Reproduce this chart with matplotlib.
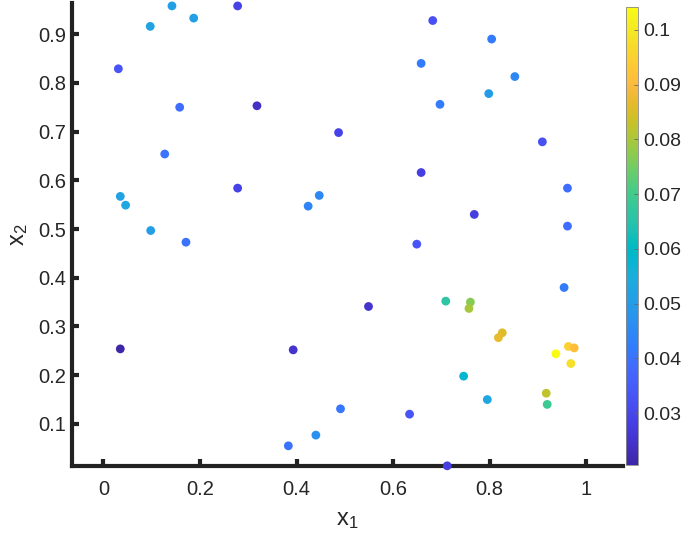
import matplotlib
matplotlib.use("Agg")
import matplotlib.pyplot as plt
from matplotlib.colors import LinearSegmentedColormap

plt.rcParams["font.family"] = ["Liberation Sans", "DejaVu Sans"]

# sample points (x1, x2) and their colour values
x1 = [0.142, 0.278, 0.097, 0.187, 0.031, 0.158, 0.318, 0.487, 0.127, 0.278,
      0.035, 0.046, 0.424, 0.447, 0.098, 0.171, 0.035, 0.393, 0.491, 0.383,
      0.440, 0.682, 0.804, 0.658, 0.852, 0.798, 0.697, 0.909, 0.658, 0.961,
      0.768, 0.961, 0.649, 0.954, 0.549, 0.709, 0.760, 0.757, 0.826, 0.818,
      0.963, 0.975, 0.937, 0.968, 0.746, 0.795, 0.917, 0.919, 0.634, 0.712]
x2 = [0.958, 0.958, 0.916, 0.933, 0.829, 0.750, 0.753, 0.698, 0.654, 0.584,
      0.567, 0.549, 0.547, 0.569, 0.497, 0.473, 0.254, 0.252, 0.131, 0.055,
      0.077, 0.928, 0.890, 0.840, 0.813, 0.778, 0.756, 0.679, 0.616, 0.584,
      0.530, 0.506, 0.469, 0.380, 0.341, 0.352, 0.350, 0.337, 0.287, 0.277,
      0.259, 0.256, 0.244, 0.224, 0.198, 0.150, 0.163, 0.140, 0.120, 0.014]
val = [0.051, 0.029, 0.052, 0.051, 0.033, 0.039, 0.024, 0.029, 0.040, 0.029,
       0.052, 0.053, 0.044, 0.045, 0.051, 0.040, 0.0205, 0.025, 0.041, 0.040,
       0.047, 0.032, 0.042, 0.042, 0.045, 0.050, 0.042, 0.032, 0.028, 0.039,
       0.028, 0.039, 0.033, 0.042, 0.025, 0.066, 0.077, 0.080, 0.086, 0.087,
       0.095, 0.091, 0.1042, 0.098, 0.058, 0.053, 0.082, 0.069, 0.033, 0.028]

xticks = [0, 0.2, 0.4, 0.6, 0.8, 1]
yticks = [0.1, 0.2, 0.3, 0.4, 0.5, 0.6, 0.7, 0.8, 0.9]
cticks = [0.03, 0.04, 0.05, 0.06, 0.07, 0.08, 0.09, 0.1]

# MATLAB parula (64 steps)
parula_rgb = [
    (0.2422, 0.1504, 0.6603), (0.2504, 0.1650, 0.7076), (0.2578, 0.1818, 0.7511),
    (0.2647, 0.1978, 0.7952), (0.2706, 0.2147, 0.8364), (0.2751, 0.2342, 0.8710),
    (0.2783, 0.2559, 0.8991), (0.2803, 0.2782, 0.9221), (0.2813, 0.3006, 0.9414),
    (0.2810, 0.3228, 0.9579), (0.2795, 0.3447, 0.9717), (0.2760, 0.3667, 0.9829),
    (0.2699, 0.3892, 0.9906), (0.2602, 0.4123, 0.9952), (0.2440, 0.4358, 0.9988),
    (0.2206, 0.4603, 0.9973), (0.1963, 0.4847, 0.9892), (0.1834, 0.5074, 0.9798),
    (0.1786, 0.5289, 0.9682), (0.1764, 0.5499, 0.9520), (0.1687, 0.5703, 0.9359),
    (0.1540, 0.5902, 0.9218), (0.1460, 0.6091, 0.9079), (0.1380, 0.6276, 0.8973),
    (0.1248, 0.6459, 0.8883), (0.1113, 0.6635, 0.8763), (0.0952, 0.6798, 0.8598),
    (0.0689, 0.6948, 0.8394), (0.0297, 0.7082, 0.8163), (0.0036, 0.7203, 0.7917),
    (0.0067, 0.7312, 0.7660), (0.0433, 0.7411, 0.7394), (0.0964, 0.7500, 0.7120),
    (0.1408, 0.7584, 0.6842), (0.1717, 0.7670, 0.6554), (0.1938, 0.7758, 0.6251),
    (0.2161, 0.7843, 0.5923), (0.2470, 0.7918, 0.5567), (0.2906, 0.7973, 0.5188),
    (0.3406, 0.8008, 0.4789), (0.3909, 0.8029, 0.4354), (0.4456, 0.8024, 0.3909),
    (0.5044, 0.7993, 0.3480), (0.5616, 0.7942, 0.3045), (0.6174, 0.7876, 0.2612),
    (0.6720, 0.7793, 0.2227), (0.7242, 0.7698, 0.1910), (0.7738, 0.7598, 0.1646),
    (0.8203, 0.7498, 0.1535), (0.8634, 0.7406, 0.1596), (0.9035, 0.7330, 0.1774),
    (0.9393, 0.7288, 0.2100), (0.9728, 0.7298, 0.2394), (0.9956, 0.7434, 0.2371),
    (0.9970, 0.7659, 0.2199), (0.9952, 0.7893, 0.2028), (0.9892, 0.8136, 0.1885),
    (0.9786, 0.8386, 0.1766), (0.9676, 0.8639, 0.1643), (0.9610, 0.8890, 0.1537),
    (0.9597, 0.9135, 0.1423), (0.9628, 0.9373, 0.1265), (0.9691, 0.9606, 0.1064),
    (0.9769, 0.9839, 0.0805)]
parula = LinearSegmentedColormap.from_list("parula", parula_rgb)

fig = plt.figure(figsize=(6.85, 5.42), dpi=100)
ax = fig.add_axes([72 / 685, 76 / 542, 551 / 685, 463 / 542])
cax = fig.add_axes([626 / 685, 77 / 542, 12 / 685, 458 / 542])

sc = ax.scatter(x1, x2, c=val, cmap=parula, vmin=0.0205, vmax=0.1042,
                s=40, edgecolors="none", zorder=3, clip_on=False)

ax.set_xlim(-0.065, 1.076)
ax.set_ylim(0.0136, 0.964)
ax.set_xticks(xticks)
ax.set_xticklabels(["0", "0.2", "0.4", "0.6", "0.8", "1"])
ax.set_yticks(yticks)
ax.set_yticklabels([str(t) for t in yticks])
for side in ["top", "right"]:
    ax.spines[side].set_visible(False)
for side in ["left", "bottom"]:
    ax.spines[side].set_linewidth(3)
    ax.spines[side].set_color("#222222")
ax.tick_params(direction="in", length=5, width=3, color="#222222",
               labelsize=14.5, labelcolor="#262626")
ax.tick_params(axis="x", pad=10)
ax.tick_params(axis="y", pad=4)
ax.set_xlabel(r"$\mathregular{x_1}$", fontsize=17, color="#262626", labelpad=7)
ax.set_ylabel(r"$\mathregular{x_2}$", fontsize=17, color="#262626", labelpad=6)

cb = fig.colorbar(sc, cax=cax)
cb.set_ticks(cticks)
cb.set_ticklabels(["0.03", "0.04", "0.05", "0.06", "0.07", "0.08", "0.09", "0.1"])
cb.outline.set_linewidth(0.6)
cb.outline.set_edgecolor("#888888")
cax.tick_params(direction="in", length=3, width=0.6, color="#666666",
                labelsize=14, labelcolor="#262626", pad=4)

fig.savefig("out.png", dpi=100)
